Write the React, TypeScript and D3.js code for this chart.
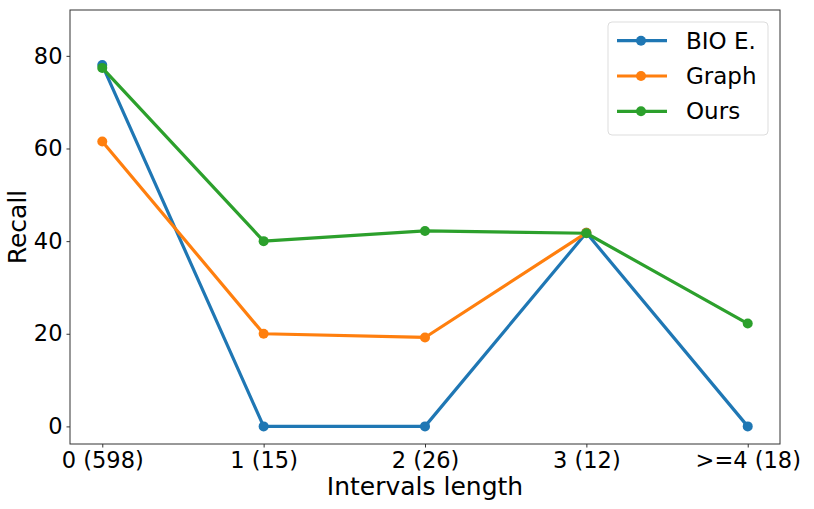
import { useEffect, useRef } from 'react';
import * as d3 from 'd3';

const categories = ["0 (598)", "1 (15)", "2 (26)", "3 (12)", ">=4 (18)"];
const bioValues: (number | null)[] = [78.0, 0, 0, 41.8, 0];
const graphValues: (number | null)[] = [61.5, 20.0, 19.2, 41.8, null];
const oursValues: (number | null)[] = [77.4, 40.0, 42.2, 41.7, 22.2];
const seriesNames = ["BIO E.", "Graph", "Ours"];
const seriesColors = ["#1f77b4", "#ff7f0e", "#2ca02c"];
const yTicks = [0, 20, 40, 60, 80];

export default function App() {
    const svgRef = useRef<SVGSVGElement>(null);

    useEffect(() => {
        if (!svgRef.current) return;
        const svg = d3.select(svgRef.current);
        svg.selectAll("*").remove();

        const width = 814;
        const height = 509;
        const marginLeft = 70;
        const marginRight = 34;
        const marginTop = 10;
        const marginBottom = 65;
        const font = "DejaVu Sans, sans-serif";

        const x = d3.scaleLinear()
            .domain([-0.2, categories.length - 1 + 0.2])
            .range([marginLeft, width - marginRight]);

        const y = d3.scaleLinear()
            .domain([-3.8, 89.9])
            .range([height - marginBottom, marginTop]);

        const allSeries = [bioValues, graphValues, oursValues];

        // Axes
        const xAxis = svg.append("g")
            .attr("transform", `translate(0,${height - marginBottom})`)
            .call(d3.axisBottom(x)
                .tickValues(categories.map((_, i) => i))
                .tickFormat((d) => categories[d as number])
                .tickSizeOuter(0)
                .tickSize(3.5)
                .tickPadding(5));
        xAxis.select(".domain").remove();
        xAxis.selectAll("text")
            .style("font-family", font)
            .style("font-size", "22.5px")
            .style("fill", "black");
        xAxis.selectAll("line").attr("stroke", "#333");

        const yAxis = svg.append("g")
            .attr("transform", `translate(${marginLeft},0)`)
            .call(d3.axisLeft(y)
                .tickValues(yTicks)
                .tickSizeOuter(0)
                .tickSize(3.5)
                .tickPadding(4));
        yAxis.select(".domain").remove();
        yAxis.selectAll("text")
            .style("font-family", font)
            .style("font-size", "22.5px")
            .style("fill", "black");
        yAxis.selectAll("line").attr("stroke", "#333");

        // Frame
        svg.append("rect")
            .attr("x", marginLeft)
            .attr("y", marginTop)
            .attr("width", width - marginLeft - marginRight)
            .attr("height", height - marginTop - marginBottom)
            .attr("fill", "none")
            .attr("stroke", "#333")
            .attr("stroke-width", 1);

        // Lines
        const line = d3.line<number | null>()
            .defined(d => d !== null)
            .x((_, i) => x(i))
            .y(d => y(d as number));

        allSeries.forEach((values, s) => {
            svg.append("path")
                .datum(values)
                .attr("fill", "none")
                .attr("stroke", seriesColors[s])
                .attr("stroke-width", 3.2)
                .attr("stroke-linejoin", "round")
                .attr("d", line);

            svg.append("g")
                .selectAll("circle")
                .data(values.map((v, i) => ({ v, i })).filter(d => d.v !== null))
                .join("circle")
                .attr("cx", d => x(d.i))
                .attr("cy", d => y(d.v as number))
                .attr("r", 5)
                .attr("fill", seriesColors[s]);
        });

        // Axis labels
        svg.append("text")
            .attr("text-anchor", "middle")
            .attr("x", marginLeft + (width - marginLeft - marginRight) / 2)
            .attr("y", 495)
            .style("font-family", font)
            .style("font-size", "25px")
            .text("Intervals length");

        svg.append("text")
            .attr("text-anchor", "middle")
            .attr("transform", "rotate(-90)")
            .attr("x", -(marginTop + (height - marginTop - marginBottom) / 2))
            .attr("y", 26)
            .style("font-family", font)
            .style("font-size", "25px")
            .text("Recall");

        // Legend
        const legend = svg.append("g").attr("transform", "translate(608,22)");
        legend.append("rect")
            .attr("width", 160)
            .attr("height", 113)
            .attr("rx", 4)
            .attr("fill", "white")
            .attr("fill-opacity", 0.8)
            .attr("stroke", "#ddd");

        seriesNames.forEach((name, i) => {
            const row = legend.append("g").attr("transform", `translate(0,${18.7 + i * 35.3})`);
            row.append("line")
                .attr("x1", 9).attr("x2", 59)
                .attr("stroke", seriesColors[i])
                .attr("stroke-width", 3.2);
            row.append("circle")
                .attr("cx", 33)
                .attr("r", 5)
                .attr("fill", seriesColors[i]);
            row.append("text")
                .attr("x", 78)
                .attr("dy", "0.35em")
                .style("font-family", font)
                .style("font-size", "23px")
                .text(name);
        });
    }, []);

    return (
        <svg ref={svgRef} width={814} height={509}
            style={{ position: "absolute", top: 0, left: 0, background: "white" }} />
    );
}
